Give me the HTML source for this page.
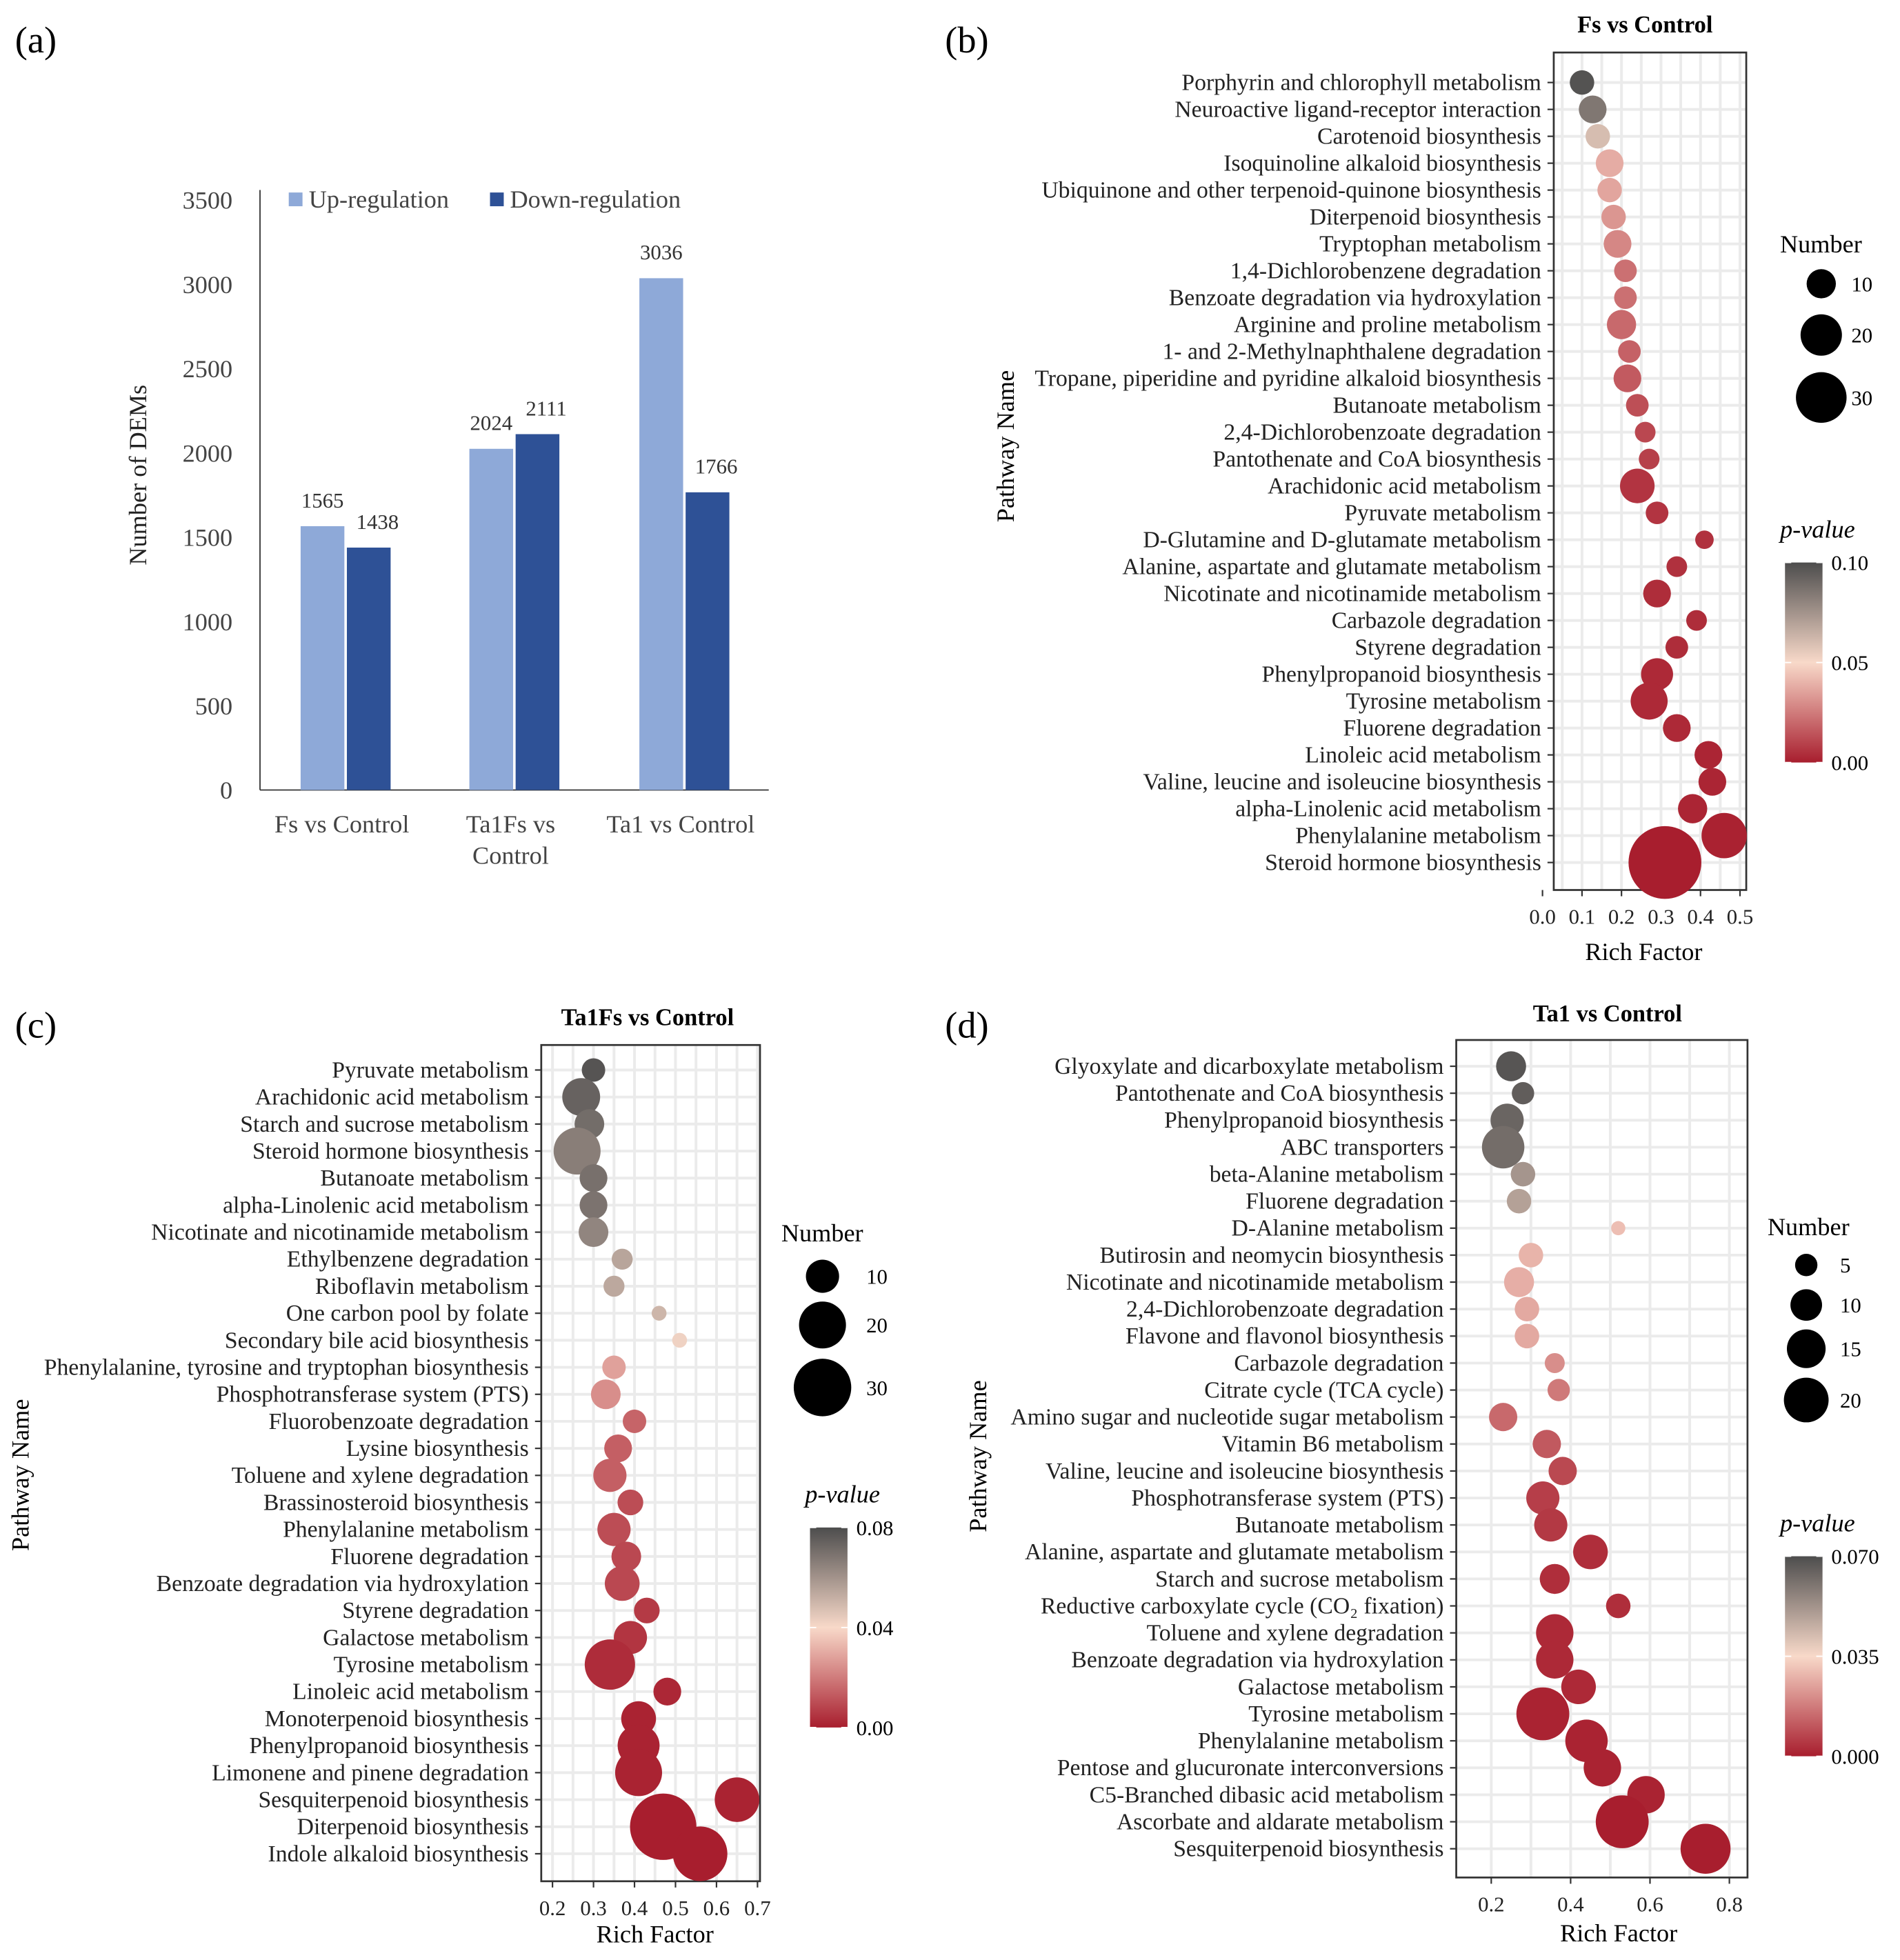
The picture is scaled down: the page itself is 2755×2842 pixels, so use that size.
<!DOCTYPE html>
<html><head><meta charset="utf-8">
<style>
html,body{margin:0;padding:0;background:#fff;}
svg{display:block;font-family:"Liberation Serif",serif;}
</style></head>
<body>
<svg id="fig" xmlns="http://www.w3.org/2000/svg" width="2755" height="2842" viewBox="0 0 1520 1568">
<rect x="0" y="0" width="1520" height="1568" fill="#fff"/>
</svg>
<script>
// ---------- Panel (a) data ----------
const barGroups = [["Fs vs Control"], ["Ta1Fs vs", "Control"], ["Ta1 vs Control"]];
const upValues = [1565, 2024, 3036];
const downValues = [1438, 2111, 1766];
const barYTicks = [0, 500, 1000, 1500, 2000, 2500, 3000, 3500];

// ---------- Panel (b) data ----------
const bNames = ["Porphyrin and chlorophyll metabolism","Neuroactive ligand-receptor interaction","Carotenoid biosynthesis","Isoquinoline alkaloid biosynthesis","Ubiquinone and other terpenoid-quinone biosynthesis","Diterpenoid biosynthesis","Tryptophan metabolism","1,4-Dichlorobenzene degradation","Benzoate degradation via hydroxylation","Arginine and proline metabolism","1- and 2-Methylnaphthalene degradation","Tropane, piperidine and pyridine alkaloid biosynthesis","Butanoate metabolism","2,4-Dichlorobenzoate degradation","Pantothenate and CoA biosynthesis","Arachidonic acid metabolism","Pyruvate metabolism","D-Glutamine and D-glutamate metabolism","Alanine, aspartate and glutamate metabolism","Nicotinate and nicotinamide metabolism","Carbazole degradation","Styrene degradation","Phenylpropanoid biosynthesis","Tyrosine metabolism","Fluorene degradation","Linoleic acid metabolism","Valine, leucine and isoleucine biosynthesis","alpha-Linolenic acid metabolism","Phenylalanine metabolism","Steroid hormone biosynthesis"];
const bRich = [0.10,0.127,0.14,0.17,0.17,0.18,0.19,0.21,0.21,0.20,0.22,0.215,0.24,0.26,0.27,0.24,0.29,0.41,0.34,0.29,0.39,0.34,0.29,0.27,0.34,0.42,0.43,0.38,0.46,0.31];
const bCount = [7,9,7,9,7,7,9,6,6,10,6,9,6,5,5,14,6,4,5,9,5,6,12,16,9,9,9,10,24,62];
const bP = [0.098,0.085,0.06,0.038,0.036,0.032,0.028,0.022,0.022,0.02,0.018,0.016,0.013,0.011,0.009,0.006,0.006,0.005,0.005,0.004,0.004,0.004,0.003,0.003,0.003,0.002,0.002,0.002,0.001,0.0];
const bXTicks = [0.0,0.1,0.2,0.3,0.4,0.5];
const bSizeLegend = [10,20,30];
const bColorTicks = ["0.10","0.05","0.00"];

// ---------- Panel (c) data ----------
const cNames = ["Pyruvate metabolism","Arachidonic acid metabolism","Starch and sucrose metabolism","Steroid hormone biosynthesis","Butanoate metabolism","alpha-Linolenic acid metabolism","Nicotinate and nicotinamide metabolism","Ethylbenzene degradation","Riboflavin metabolism","One carbon pool by folate","Secondary bile acid biosynthesis","Phenylalanine, tyrosine and tryptophan biosynthesis","Phosphotransferase system (PTS)","Fluorobenzoate degradation","Lysine biosynthesis","Toluene and xylene degradation","Brassinosteroid biosynthesis","Phenylalanine metabolism","Fluorene degradation","Benzoate degradation via hydroxylation","Styrene degradation","Galactose metabolism","Tyrosine metabolism","Linoleic acid metabolism","Monoterpenoid biosynthesis","Phenylpropanoid biosynthesis","Limonene and pinene degradation","Sesquiterpenoid biosynthesis","Diterpenoid biosynthesis","Indole alkaloid biosynthesis"];
const cRich = [0.30,0.27,0.29,0.26,0.30,0.30,0.30,0.37,0.35,0.46,0.51,0.35,0.33,0.40,0.36,0.34,0.39,0.35,0.38,0.37,0.43,0.39,0.34,0.48,0.41,0.41,0.41,0.65,0.47,0.56];
const cCount = [5,13,8,20,7,7,8,4,4,2,2,5,8,5,7,10,6,10,8,11,6,10,23,7,11,16,20,18,40,27];
const cP = [0.078,0.074,0.071,0.066,0.07,0.069,0.064,0.055,0.054,0.05,0.042,0.028,0.024,0.015,0.014,0.014,0.01,0.01,0.009,0.009,0.006,0.005,0.003,0.002,0.001,0.001,0.001,0.001,0.0,0.0];
const cXTicks = [0.2,0.3,0.4,0.5,0.6,0.7];
const cSizeLegend = [10,20,30];
const cColorTicks = ["0.08","0.04","0.00"];

// ---------- Panel (d) data ----------
const dNames = ["Glyoxylate and dicarboxylate metabolism","Pantothenate and CoA biosynthesis","Phenylpropanoid biosynthesis","ABC transporters","beta-Alanine metabolism","Fluorene degradation","D-Alanine metabolism","Butirosin and neomycin biosynthesis","Nicotinate and nicotinamide metabolism","2,4-Dichlorobenzoate degradation","Flavone and flavonol biosynthesis","Carbazole degradation","Citrate cycle (TCA cycle)","Amino sugar and nucleotide sugar metabolism","Vitamin B6 metabolism","Valine, leucine and isoleucine biosynthesis","Phosphotransferase system (PTS)","Butanoate metabolism","Alanine, aspartate and glutamate metabolism","Starch and sucrose metabolism","Reductive carboxylate cycle (CO\u2082 fixation)","Toluene and xylene degradation","Benzoate degradation via hydroxylation","Galactose metabolism","Tyrosine metabolism","Phenylalanine metabolism","Pentose and glucuronate interconversions","C5-Branched dibasic acid metabolism","Ascorbate and aldarate metabolism","Sesquiterpenoid biosynthesis"];
const dRich = [0.25,0.28,0.24,0.23,0.28,0.27,0.52,0.30,0.27,0.29,0.29,0.36,0.37,0.23,0.34,0.38,0.33,0.35,0.45,0.36,0.52,0.36,0.36,0.42,0.33,0.44,0.48,0.59,0.53,0.74];
const dCount = [9,5,11,18,6,6,2,6,9,6,6,4,5,8,8,8,11,11,12,9,6,14,14,12,28,18,14,14,28,25];
const dP = [0.068,0.066,0.064,0.062,0.052,0.049,0.03,0.028,0.027,0.026,0.026,0.021,0.017,0.014,0.011,0.008,0.006,0.005,0.003,0.003,0.003,0.002,0.002,0.002,0.001,0.001,0.001,0.001,0.0,0.0];
const dXTicks = [0.2,0.4,0.6,0.8];
const dSizeLegend = [5,10,15,20];
const dColorTicks = ["0.070","0.035","0.000"];

const NS = "http://www.w3.org/2000/svg";
const svg = document.getElementById("fig");
function mk(tag, parent, attrs, text){
  const e = document.createElementNS(NS, tag);
  for (const k in attrs) e.setAttribute(k, attrs[k]);
  if (text !== undefined) e.textContent = text;
  (parent || svg).appendChild(e);
  return e;
}
function lerp(a,b,t){return Math.round(a+(b-a)*t);}
function pColor(p, pmax){
  let t = Math.max(0, Math.min(1, p/pmax));
  const red=[168,30,46], mid=[248,217,201], grey=[77,77,77];
  let c;
  if (t<0.5){const u=t*2; c=[lerp(red[0],mid[0],u),lerp(red[1],mid[1],u),lerp(red[2],mid[2],u)];}
  else {const u=(t-0.5)*2; c=[lerp(mid[0],grey[0],u),lerp(mid[1],grey[1],u),lerp(mid[2],grey[2],u)];}
  return "rgb("+c.join(",")+")";
}

// ---------- Panel (a) ----------
(function(){
  const g = mk("g", svg, {});
  
  
  const x0=208, x1=615, yBase=632, yTop=160, vmax=3500;
  const y = v => yBase - v/vmax*(yBase-yTop);
  const centers=[276.5,411.5,547.5];
  const lab = mk("text", g, {x:12,y:42,"font-size":30}, "(a)");
  
  
  mk("line", g, {x1:208,y1:yTop-8,x2:208,y2:yBase,stroke:"#333","stroke-width":1});
  mk("line", g, {x1:x0,y1:yBase,x2:x1,y2:yBase,stroke:"#333","stroke-width":1});
  barYTicks.forEach(v=>{
    const t = mk("text", g, {x:186,y:y(v)+7,"font-size":20,"text-anchor":"end",fill:"#444"}, String(v));
    
    
  });
  const yl = mk("text", g, {transform:"translate(117,380) rotate(-90)","font-size":20,"text-anchor":"middle",fill:"#222"}, "Number of DEMs");
  
  
  const bw=35;
  barGroups.forEach((lines,i)=>{
    const c=centers[i];
    const ub = mk("rect", g, {x:c-bw-1,y:y(upValues[i]),width:bw,height:yBase-y(upValues[i]),fill:"#8EA9D8"});
    
    
    const db = mk("rect", g, {x:c+1,y:y(downValues[i]),width:bw,height:yBase-y(downValues[i]),fill:"#2E5196"});
    
    
    const ul = mk("text", g, {x:c-bw/2-1,y:y(upValues[i])-15,"font-size":17,"text-anchor":"middle",fill:"#333"}, String(upValues[i]));
    
    
    const dl = mk("text", g, {x:c+bw/2+8,y:y(downValues[i])-15,"font-size":17,"text-anchor":"middle",fill:"#333"}, String(downValues[i]));
    
    
    lines.forEach((s,j)=>{
      const t = mk("text", g, {x:c-3,y:666+j*25,"font-size":20,"text-anchor":"middle",fill:"#444"}, s);
      
      
    });
  });
  const l1 = mk("rect", g, {x:231,y:154,width:11,height:11,fill:"#8EA9D8"});
  
  
  const l1t = mk("text", g, {x:247,y:166,"font-size":20,fill:"#444"}, "Up-regulation");
  
  
  const l2 = mk("rect", g, {x:392,y:154,width:11,height:11,fill:"#2E5196"});
  
  
  const l2t = mk("text", g, {x:408,y:166,"font-size":20,fill:"#444"}, "Down-regulation");
  
  
})();

// ---------- Bubble panel generic ----------
function bubblePanel(o){
  const g = mk("g", svg, {});
  
  
  const X = v => o.xA + (v - o.v0) * o.xs;
  const n = o.names.length;
  const rowY = i => o.rowTop + i*(o.rowBot-o.rowTop)/(n-1);
  const pl = mk("text", g, {x:o.labX,y:o.labY,"font-size":30}, o.label);
  
  
  const ti = mk("text", g, {x:o.titleX,y:o.titleY,"font-size":19,"font-weight":"bold","text-anchor":"middle"}, o.title);
  
  
  mk("rect", g, {x:o.pl,y:o.pt,width:o.pr-o.pl,height:o.pb-o.pt,fill:"#fff"});
  const step = o.ticks[1]-o.ticks[0];
  for (let v=o.ticks[0]-step; v<=o.ticks[o.ticks.length-1]+step+1e-9; v+=step/2){
    const xx = X(v);
    if (xx>o.pl+1 && xx<o.pr-1) mk("line", g, {x1:xx,y1:o.pt,x2:xx,y2:o.pb,stroke:"#EBEBEB","stroke-width":2.2});
  }
  for (let i=0;i<n;i++) mk("line", g, {x1:o.pl,y1:rowY(i),x2:o.pr,y2:rowY(i),stroke:"#EBEBEB","stroke-width":2.2});
  mk("rect", g, {x:o.pl,y:o.pt,width:o.pr-o.pl,height:o.pb-o.pt,fill:"none",stroke:"#333","stroke-width":1.5});
  o.names.forEach((s,i)=>{
    mk("line", g, {x1:o.pl-5,y1:rowY(i),x2:o.pl,y2:rowY(i),stroke:"#333","stroke-width":1.2});
    const t = mk("text", g, {x:o.pl-10,y:rowY(i)+6,"font-size":18.6,"text-anchor":"end",fill:"#222"}, s);
    
    
  });
  o.ticks.forEach(v=>{
    mk("line", g, {x1:X(v),y1:o.pb,x2:X(v),y2:o.pb+5,stroke:"#333","stroke-width":1.2});
    const t = mk("text", g, {x:X(v),y:o.pb+27,"font-size":17,"text-anchor":"middle",fill:"#222"}, v.toFixed(1));
    
    
  });
  const xt = mk("text", g, {x:o.xtX,y:o.xtY,"font-size":20,"text-anchor":"middle"}, "Rich Factor");
  
  
  const yt = mk("text", g, {transform:"translate("+o.ytX+","+o.ytY+") rotate(-90)","font-size":20,"text-anchor":"middle"}, "Pathway Name");
  
  
  o.names.forEach((s,i)=>{
    const c = mk("circle", g, {cx:X(o.rich[i]),cy:rowY(i),r:o.a*Math.sqrt(o.count[i]),fill:pColor(o.p[i],o.pmax)});
    
    
  });
  const nt = mk("text", g, {x:o.nX,y:o.nY,"font-size":20}, "Number");
  
  
  o.sizes.forEach((v,k)=>{
    const c = mk("circle", g, {cx:o.sCx,cy:o.sY[k],r:o.a*Math.sqrt(v),fill:"#000"});
    
    
    const t = mk("text", g, {x:o.sTx,y:o.sY[k]+6,"font-size":17}, String(v));
    
    
  });
  const pt = mk("text", g, {x:o.cbX-4,y:o.cbT-20,"font-size":20,"font-style":"italic"}, "p-value");
  
  
  const gid = o.id+"-grad";
  const defs = mk("defs", g, {});
  const lg = mk("linearGradient", defs, {id:gid,x1:0,y1:0,x2:0,y2:1});
  mk("stop", lg, {offset:"0","stop-color":"#4D4D4D"});
  mk("stop", lg, {offset:"0.5","stop-color":"#F8D9C9"});
  mk("stop", lg, {offset:"1","stop-color":"#A81E2E"});
  const cb = mk("rect", g, {x:o.cbX,y:o.cbT,width:30,height:o.cbB-o.cbT,fill:"url(#"+gid+")"});
  
  
  o.cticks.forEach((s,k)=>{
    const yy = o.cbT + k*(o.cbB-o.cbT)/2;
    mk("line", g, {x1:o.cbX,y1:yy,x2:o.cbX+5,y2:yy,stroke:"#fff","stroke-width":1});
    mk("line", g, {x1:o.cbX+25,y1:yy,x2:o.cbX+30,y2:yy,stroke:"#fff","stroke-width":1});
    const t = mk("text", g, {x:o.cbX+37,y:yy+6,"font-size":17}, s);
    
    
  });
}

bubblePanel({id:"bubble-panel-b",label:"(b)",labX:756,labY:42,title:"Fs vs Control",titleX:1316,titleY:26,
  names:bNames,rich:bRich,count:bCount,p:bP,pmax:0.1,ticks:bXTicks,v0:0,xA:1234,xs:316,
  pl:1243,pr:1397,pt:42,pb:712,rowTop:66,rowBot:690,a:3.7,
  xtX:1315,xtY:768,ytX:811,ytY:357,
  nX:1424,nY:202,sizes:bSizeLegend,sCx:1457,sY:[227,268,318],sTx:1481,
  cbX:1428,cbT:450,cbB:610,cticks:bColorTicks});

bubblePanel({id:"bubble-panel-c",label:"(c)",labX:12,labY:830,title:"Ta1Fs vs Control",titleX:518,titleY:820,
  names:cNames,rich:cRich,count:cCount,p:cP,pmax:0.08,ticks:cXTicks,v0:0.2,xA:442,xs:328,
  pl:433,pr:608,pt:836,pb:1505,rowTop:856,rowBot:1483,a:4.2,
  xtX:524,xtY:1554,ytX:23,ytY:1180,
  nX:625,nY:993,sizes:cSizeLegend,sCx:658,sY:[1021,1060,1110],sTx:693,
  cbX:648,cbT:1222,cbB:1382,cticks:cColorTicks});

bubblePanel({id:"bubble-panel-d",label:"(d)",labX:756,labY:830,title:"Ta1 vs Control",titleX:1286,titleY:817,
  names:dNames,rich:dRich,count:dCount,p:dP,pmax:0.07,ticks:dXTicks,v0:0.2,xA:1193,xs:317.5,
  pl:1165,pr:1398,pt:832,pb:1502,rowTop:853,rowBot:1479,a:4,
  xtX:1295,xtY:1553,ytX:789,ytY:1165,
  nX:1414,nY:988,sizes:dSizeLegend,sCx:1445,sY:[1012,1044,1079,1120],sTx:1472,
  cbX:1428,cbT:1245,cbB:1405,cticks:dColorTicks});
</script>
</body></html>
